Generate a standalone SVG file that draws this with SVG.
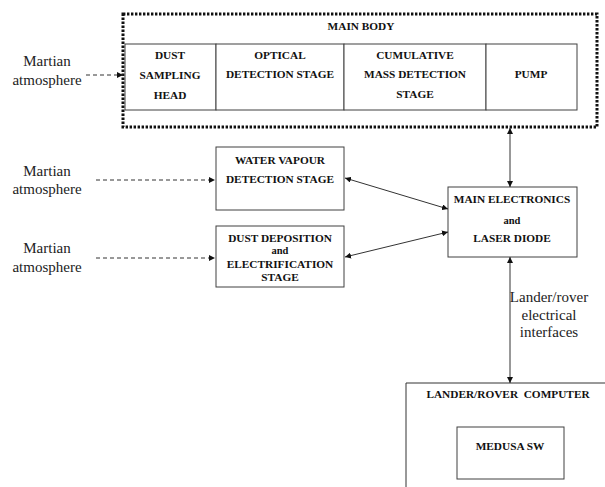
<svg xmlns="http://www.w3.org/2000/svg" width="605" height="487" viewBox="0 0 605 487">
<style>
.box{fill:#fff;stroke:#404040;stroke-width:1}
.lbl{font-family:'Liberation Serif','Times New Roman','DejaVu Serif',serif;font-weight:bold;font-size:11.3px;fill:#111;text-anchor:middle}
.sm{font-size:10.5px}
.txt{font-family:'Liberation Serif','Times New Roman','DejaVu Serif',serif;font-size:15px;fill:#222;text-anchor:middle}
.con{fill:none;stroke:#333;stroke-width:1}
.dash{stroke-dasharray:4 3}
</style>
<defs>
<marker id="ah" viewBox="0 0 10 10" refX="10" refY="5" markerWidth="6" markerHeight="6" orient="auto-start-reverse" markerUnits="userSpaceOnUse">
<path d="M0,0 L10,5 L0,10 z" fill="#111"/>
</marker>
</defs>
<rect width="605" height="487" fill="#fff"/>

<g id="main-body">
<rect x="123" y="14" width="474" height="113" fill="none" stroke="#111" stroke-width="3" stroke-dasharray="2.4 1.6"/>
<text class="lbl" x="361" y="30">MAIN BODY</text>
</g>
<g id="dust-sampling-head">
<rect class="box" x="125" y="44" width="91" height="66"/>
<text class="lbl" x="170" y="59">DUST</text>
<text class="lbl" x="170" y="79">SAMPLING</text>
<text class="lbl" x="170" y="99">HEAD</text>
</g>
<g id="optical-detection">
<rect class="box" x="216" y="44" width="128" height="66"/>
<text class="lbl" x="280" y="59">OPTICAL</text>
<text class="lbl" x="280" y="78">DETECTION STAGE</text>
</g>
<g id="cumulative-mass">
<rect class="box" x="344" y="44" width="142" height="66"/>
<text class="lbl" x="415" y="59">CUMULATIVE</text>
<text class="lbl" x="415" y="78">MASS DETECTION</text>
<text class="lbl" x="415" y="98">STAGE</text>
</g>
<g id="pump">
<rect class="box" x="486" y="44" width="91" height="66"/>
<text class="lbl" x="531" y="78">PUMP</text>
</g>

<g id="water-vapour">
<rect class="box" x="216" y="147" width="128" height="63"/>
<text class="lbl" x="280" y="164">WATER VAPOUR</text>
<text class="lbl" x="280" y="183">DETECTION STAGE</text>
</g>
<g id="dust-deposition">
<rect class="box" x="216" y="226" width="128" height="61"/>
<text class="lbl" x="280" y="242">DUST DEPOSITION</text>
<text class="lbl sm" x="280" y="254">and</text>
<text class="lbl" x="280" y="268">ELECTRIFICATION</text>
<text class="lbl" x="280" y="281">STAGE</text>
</g>
<g id="main-electronics">
<rect class="box" x="448" y="187" width="129" height="70"/>
<text class="lbl" x="512" y="203">MAIN ELECTRONICS</text>
<text class="lbl sm" x="512" y="224">and</text>
<text class="lbl" x="512" y="242">LASER DIODE</text>
</g>
<g id="lander-computer">
<path class="con" d="M406,487 V383 H605"/>
<text class="lbl" x="508" y="398" xml:space="preserve">LANDER/ROVER  COMPUTER</text>
</g>
<g id="medusa-sw">
<rect class="box" x="457" y="427" width="107" height="52"/>
<text class="lbl" x="510" y="450">MEDUSA SW</text>
</g>

<g id="labels">
<text class="txt" x="47" y="66">Martian</text>
<text class="txt" x="47" y="85">atmosphere</text>
<text class="txt" x="47" y="176">Martian</text>
<text class="txt" x="47" y="194">atmosphere</text>
<text class="txt" x="47" y="253">Martian</text>
<text class="txt" x="47" y="272">atmosphere</text>
<text class="txt" x="549" y="302">Lander/rover</text>
<text class="txt" x="549" y="320">electrical</text>
<text class="txt" x="549" y="337">interfaces</text>
</g>

<g id="connectors">
<line class="con dash" x1="86" y1="75" x2="123" y2="75" marker-end="url(#ah)"/>
<line class="con dash" x1="96" y1="180" x2="215" y2="180" marker-end="url(#ah)"/>
<line class="con dash" x1="96" y1="258" x2="215" y2="258" marker-end="url(#ah)"/>
<line class="con" x1="345" y1="178" x2="448" y2="209" marker-start="url(#ah)" marker-end="url(#ah)"/>
<line class="con" x1="345" y1="257" x2="448" y2="232" marker-start="url(#ah)" marker-end="url(#ah)"/>
<line class="con" x1="510" y1="128" x2="510" y2="187" marker-start="url(#ah)" marker-end="url(#ah)"/>
<line class="con" x1="510" y1="257" x2="510" y2="383" marker-start="url(#ah)" marker-end="url(#ah)"/>
</g>
</svg>
